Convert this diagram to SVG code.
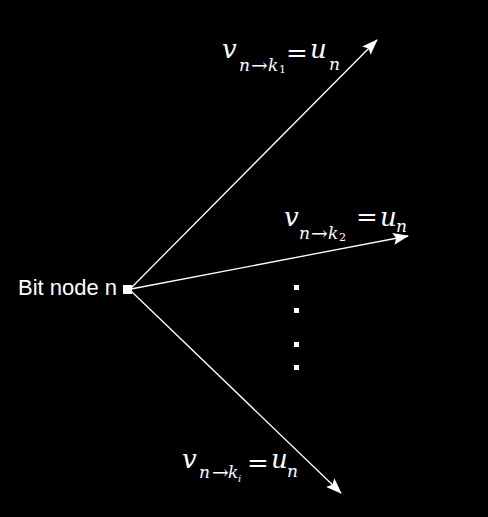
<svg xmlns="http://www.w3.org/2000/svg" width="488" height="517" viewBox="0 0 488 517">
<defs>
<style>
.ln{stroke:#fff;stroke-width:1.3;fill:none;marker-end:url(#ah)}
.m{font-family:"DejaVu Serif","Liberation Serif",serif;font-style:italic;fill:#fff}
.r{font-family:"DejaVu Serif","Liberation Serif",serif;fill:#fff}
.big{font-size:26px}
.sub{font-size:17px}
.arr{font-size:20px}
.lab{font-family:"Liberation Sans",Arial,sans-serif;font-size:22px;fill:#fff}
.dot{fill:#fff}
</style>
<marker id="ah" viewBox="0 0 16 12" refX="15" refY="6" markerWidth="16" markerHeight="12" markerUnits="userSpaceOnUse" orient="auto">
<path d="M0,0 L16,6 L0,12 L3,6 z" fill="#fff"/>
</marker>
</defs>
<rect width="488" height="517" fill="#000"/>
<g id="connectors">
<line class="ln" x1="131" y1="288" x2="377" y2="40"/>
<line class="ln" x1="131" y1="289" x2="408" y2="236"/>
<line class="ln" x1="131" y1="291" x2="341" y2="493"/>
</g>
<g id="bitnode">
<rect x="123" y="285" width="9" height="9" fill="#fff"/>
<text class="lab" x="18" y="295">Bit node n</text>
</g>
<g id="dots">
<rect class="dot" x="294" y="285" width="5" height="5"/>
<rect class="dot" x="294" y="308" width="5" height="5"/>
<rect class="dot" x="294" y="342" width="5" height="5"/>
<rect class="dot" x="294" y="365" width="5" height="5"/>
</g>
<g id="label1">
<text class="m big" x="222" y="58">v</text>
<text class="m sub" x="239" y="71">n</text>
<text class="r arr" x="251" y="72">→</text>
<text class="m sub" x="268" y="71">k</text>
<text class="r" x="279" y="73" style="font-size:11px">1</text>
<text class="r big" x="286" y="62">=</text>
<text class="m big" x="310" y="58">u</text>
<text class="m sub" x="329" y="70">n</text>
</g>
<g id="label2">
<text class="m big" x="284" y="226">v</text>
<text class="m sub" x="299" y="239">n</text>
<text class="r arr" x="311" y="240">→</text>
<text class="m sub" x="328" y="239">k</text>
<text class="r" x="339" y="241" style="font-size:11px">2</text>
<text class="r big" x="356" y="226">=</text>
<text class="m big" x="380" y="226">u</text>
<text class="m sub" x="396" y="232">n</text>
</g>
<g id="label3">
<text class="m big" x="182" y="468">v</text>
<text class="m sub" x="199" y="478">n</text>
<text class="r arr" x="212" y="479">→</text>
<text class="m sub" x="228" y="478">k</text>
<text class="m" x="238" y="482" style="font-size:10px">i</text>
<text class="r big" x="247" y="472">=</text>
<text class="m big" x="271" y="468">u</text>
<text class="m sub" x="287" y="477">n</text>
</g>
</svg>
